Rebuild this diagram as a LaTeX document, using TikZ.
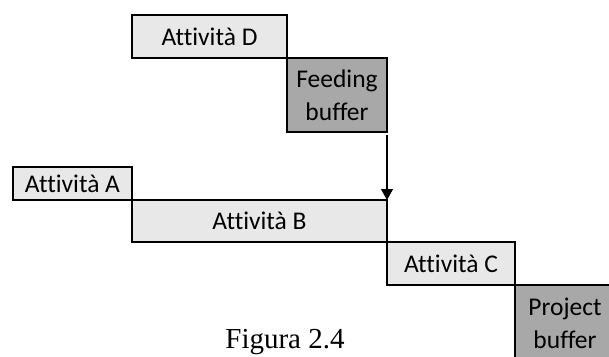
\documentclass[tikz,border=0pt]{standalone}
\usepackage{fontspec}
\setmainfont{Carlito}[Ligatures=NoCommon]
\newfontfamily\capfont{Liberation Serif}
\usetikzlibrary{positioning,arrows.meta}

\begin{document}
\begin{tikzpicture}[
  x=1pt, y=1pt,
  every node/.style={font=\fontsize{25.5}{33}\selectfont},
  act/.style ={draw, line width=2.4pt, fill=gray!18, inner sep=0pt,
               outer sep=0pt, align=center},
  buf/.style ={act, fill=gray!68},
  arr/.style ={-{Triangle[width=12pt,length=11pt]}, line width=1.2pt},
  node distance=0pt
]
\useasboundingbox (0,0) rectangle (609,-356);

\node[act, minimum width=155pt, minimum height=43pt, anchor=north west]
     (attD) at (132,-15) {Attività D};
\node[buf, minimum width=100pt, minimum height=74pt,
      below right=of attD] (feed) {Feeding\\buffer};

\node[act, minimum width=119pt, minimum height=33pt, anchor=north west]
     (attA) at (13,-167) {Attività A};
\node[act, minimum width=255pt, minimum height=42pt,
      below right=of attA] (attB) {Attività B};
\node[act, minimum width=128pt, minimum height=43pt,
      below right=of attB] (attC) {Attività C};
\node[buf, minimum width=100pt, minimum height=76pt,
      below right=of attC] (proj) {Project\\buffer};

\node[font=\capfont\fontsize{29}{34}\selectfont, anchor=base]
     (fig) at (285,-348) {Figura 2.4};

\draw[arr, shorten <=3pt] (feed.south east) -- (attB.north east);

\end{tikzpicture}
\end{document}
